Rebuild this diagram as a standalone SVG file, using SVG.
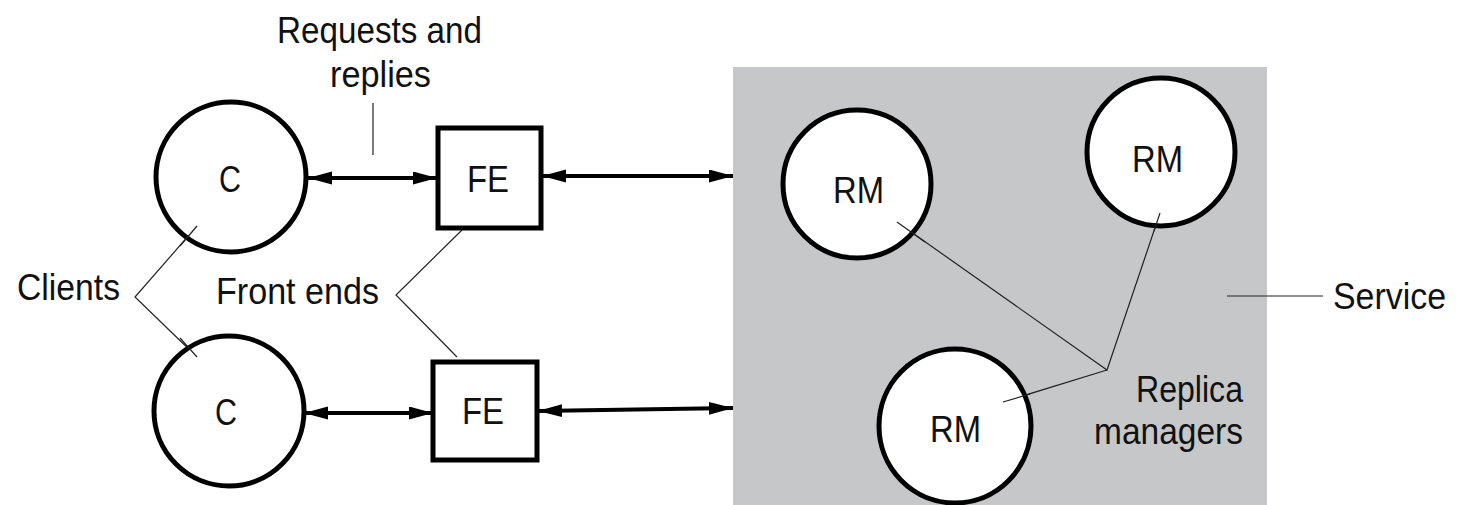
<svg xmlns="http://www.w3.org/2000/svg" width="1467" height="505" viewBox="0 0 1467 505">
<style>
text{font-family:"Liberation Sans",Arial,sans-serif;font-size:37px;fill:#111}
.node{fill:#fff;stroke:#000;stroke-width:5}
.conn{stroke:#000;stroke-width:4;fill:none;marker-start:url(#ah);marker-end:url(#ah)}
.lead{stroke:#222;stroke-width:1.2;fill:none}
</style>
<defs>
<marker id="ah" markerUnits="userSpaceOnUse" markerWidth="26" markerHeight="14" refX="24" refY="6.5" orient="auto-start-reverse">
<path d="M0,0 L24,6.5 L0,13 Z" fill="#000"/>
</marker>
</defs>
<rect id="service" x="733" y="67" width="534" height="440" fill="#c6c7c9"/>
<g id="labels">
<text x="277" y="43" textLength="205" lengthAdjust="spacingAndGlyphs">Requests and</text>
<text x="330" y="87" textLength="101" lengthAdjust="spacingAndGlyphs">replies</text>
<text x="17" y="300" textLength="103" lengthAdjust="spacingAndGlyphs">Clients</text>
<text x="216" y="304" textLength="163" lengthAdjust="spacingAndGlyphs">Front ends</text>
<text x="1333" y="309" textLength="113" lengthAdjust="spacingAndGlyphs">Service</text>
<text x="1136" y="402" textLength="107" lengthAdjust="spacingAndGlyphs">Replica</text>
<text x="1094" y="444" textLength="149" lengthAdjust="spacingAndGlyphs">managers</text>
</g>
<g id="leaders">
<line class="lead" x1="373" y1="103" x2="373" y2="155"/>
<polyline class="lead" points="197,226 135,297 197,357"/>
<polyline class="lead" points="462,230 396,295 457,357"/>
<line class="lead" x1="1227" y1="296" x2="1323" y2="296"/>
<polyline class="lead" points="897,222 1107,370 1160,213"/>
<line class="lead" x1="1003" y1="402" x2="1107" y2="370"/>
</g>
<g id="connectors">
<line class="conn" x1="308" y1="178" x2="437" y2="178"/>
<line class="conn" x1="542" y1="176" x2="733" y2="176"/>
<line class="conn" x1="304" y1="413" x2="433" y2="413"/>
<line class="conn" x1="538" y1="411" x2="733" y2="408"/>
</g>
<g id="c1"><circle class="node" cx="231" cy="177" r="75"/><text x="219" y="192" textLength="22" lengthAdjust="spacingAndGlyphs">C</text></g>
<g id="c2"><circle class="node" cx="229" cy="411" r="75"/><text x="215" y="425" textLength="22" lengthAdjust="spacingAndGlyphs">C</text></g>
<g id="fe1"><rect class="node" x="438" y="128" width="103" height="100"/><text x="467" y="192" textLength="42" lengthAdjust="spacingAndGlyphs">FE</text></g>
<g id="fe2"><rect class="node" x="433" y="362" width="104" height="98"/><text x="462" y="424" textLength="42" lengthAdjust="spacingAndGlyphs">FE</text></g>
<g id="rm1"><circle class="node" cx="857" cy="184" r="74"/><text x="833" y="203" textLength="51" lengthAdjust="spacingAndGlyphs">RM</text></g>
<g id="rm2"><circle class="node" cx="1161" cy="152" r="74"/><text x="1132" y="172" textLength="51" lengthAdjust="spacingAndGlyphs">RM</text></g>
<g id="rm3"><ellipse class="node" cx="955" cy="426" rx="76" ry="77"/><text x="930" y="442" textLength="51" lengthAdjust="spacingAndGlyphs">RM</text></g>
<g id="leaders-over">
<line class="lead" x1="897" y1="222" x2="925" y2="242"/>
<line class="lead" x1="1160" y1="213" x2="1154" y2="231"/>
<line class="lead" x1="1003" y1="402" x2="1030" y2="394"/>
<line class="lead" x1="197" y1="226" x2="180" y2="246"/>
<line class="lead" x1="197" y1="357" x2="180" y2="338"/>
</g>
</svg>
